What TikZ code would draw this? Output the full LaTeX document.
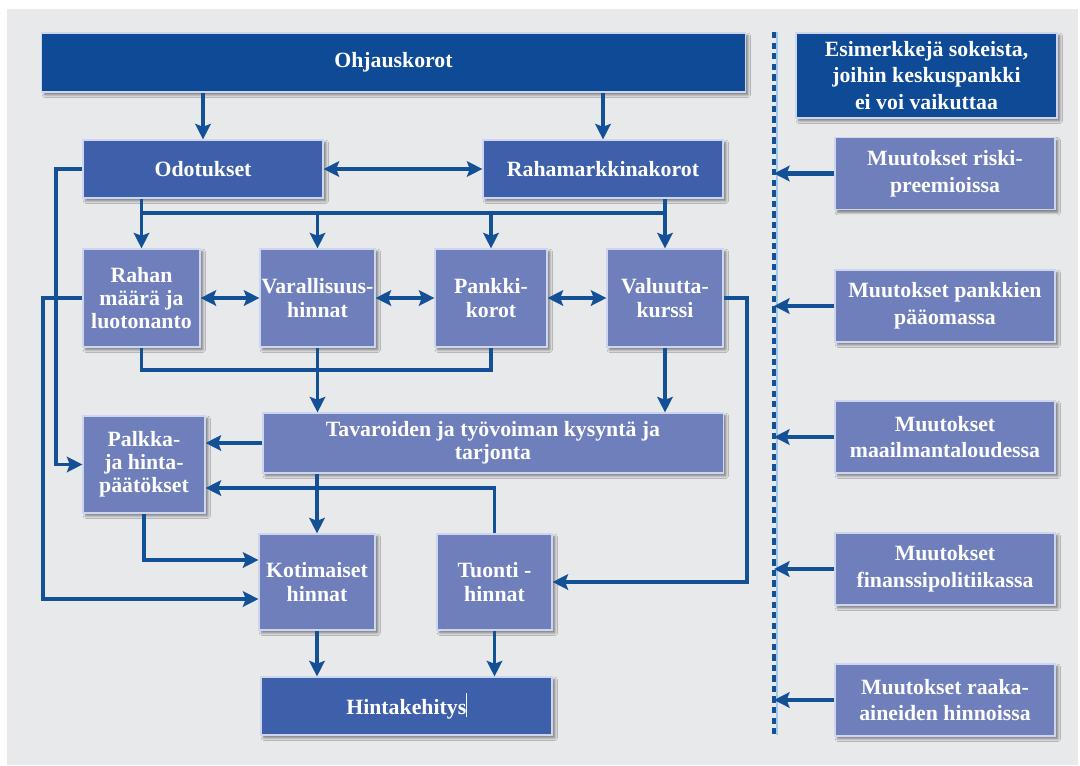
\documentclass[tikz,border=0pt]{standalone}
\usepackage{fontspec}
\setmainfont{Liberation Serif}
\usetikzlibrary{arrows.meta,calc,shadows.blur}

\definecolor{bggrey}{RGB}{232,233,235}
\definecolor{darkblue}{RGB}{14,74,150}
\definecolor{midblue}{RGB}{62,96,170}
\definecolor{lightblue}{RGB}{111,127,188}
\definecolor{arrowblue}{RGB}{20,80,150}
\definecolor{rimblue}{RGB}{205,214,238}
\definecolor{dashlight}{RGB}{160,200,235}

\begin{document}
\begin{tikzpicture}[x=0.025cm,y=-0.025cm,
	box/.style={draw=rimblue,line width=0.8pt,text=white,align=center,inner sep=1pt,
		font=\bfseries\fontsize{15.5}{16.5}\selectfont,
		blur shadow={shadow xshift=2pt,shadow yshift=-2pt,shadow blur steps=6,shadow opacity=50}},
	darkbox/.style={box,fill=darkblue},
	midbox/.style={box,fill=midblue},
	lightbox/.style={box,fill=lightblue},
	sidebox/.style={lightbox,minimum width=5.5cm,minimum height=1.8cm,
		font=\bfseries\fontsize{15.5}{19}\selectfont},
	rowbox/.style={lightbox,minimum height=2.45cm},
	link/.style={draw=arrowblue,line width=2.6pt},
	arr/.style={link,-{Stealth[length=11pt,width=11pt,inset=2pt]}},
	arrs/.style={link,{Stealth[length=11pt,width=11pt,inset=2pt]}-{Stealth[length=11pt,width=11pt,inset=2pt]}},
	]
				\useasboundingbox (0,0) rectangle (1080,765);
				\fill[white] (0,0) rectangle (1080,765);
				\fill[bggrey] (7,9) rectangle (1078,765);
				
				% Boxes
				\node[darkbox,minimum width=17.575cm,minimum height=1.475cm] (ohj) at (393.5,62.5) {Ohjauskorot};
				\node[midbox,minimum width=6cm,minimum height=1.45cm] (odo) at (203,169) {Odotukset};
				\node[midbox,minimum width=6cm,minimum height=1.45cm] (raha) at (603,169) {Rahamarkkinakorot};
				
				\node[rowbox,minimum width=2.925cm] (maara) at (141.5,298) {Rahan\\määrä ja\\luotonanto};
				\node[rowbox,minimum width=2.875cm] (vara) at (317.5,298) {Varallisuus-\\hinnat};
				\node[rowbox,minimum width=2.8cm] (pank) at (491,298) {Pankki-\\korot};
				\node[rowbox,minimum width=2.9cm] (valu) at (665,298) {Valuutta-\\kurssi};
				
				\node[lightbox,minimum width=3.05cm,minimum height=2.425cm] (palk) at (144,464.5) {Palkka-\\ja hinta-\\päätökset};
				\node[lightbox,minimum width=11.5cm,minimum height=1.5cm] (tava) at (493,443) {Tavaroiden ja työvoiman kysyntä ja\\tarjonta};
				\node[lightbox,minimum width=2.9cm,minimum height=2.4cm] (koti) at (317,582) {Kotimaiset\\hinnat};
				\node[lightbox,minimum width=2.875cm,minimum height=2.4cm] (tuon) at (494.5,582) {Tuonti -\\hinnat};
				\node[midbox,minimum width=7.275cm,minimum height=1.45cm] (hint) at (406.5,706) {Hintakehitys\rule[-.3ex]{.3pt}{2.4ex}};
				
				% Shocks
				\node[darkbox,minimum width=6.525cm,minimum height=2.125cm,font=\bfseries\fontsize{15.5}{19}\selectfont] (esim) at (926.5,75.5) {Esimerkkejä sokeista,\\joihin keskuspankki\\ei voi vaikuttaa};
				\node[sidebox] (riski) at (945,173.5) {Muutokset riski-\\preemioissa};
				\node[sidebox] (paaoma) at (945,306) {Muutokset pankkien\\pääomassa};
				\node[sidebox] (maailma) at (945,437) {Muutokset\\maailmantaloudessa};
				\node[sidebox] (finanssi) at (945,569) {Muutokset\\finanssipolitiikassa};
				\node[sidebox] (raaka) at (945,700) {Muutokset raaka-\\aineiden hinnoissa};
				
				% Helper points
				\coordinate (bustop) at (0,213);
				\coordinate (busbot) at (0,370);
				\coordinate (l1) at (56,0);
				\coordinate (l2) at (43,0);
				\coordinate (vr) at (747,0);
				\coordinate (dtop) at (774,32);
				\coordinate (dbot) at (774,735);
				
				% Top arrows
				\draw[arr] (ohj.south -| odo) -- (odo.north);
				\draw[arr] (ohj.south -| raha) -- (raha.north);
				\draw[arrs] (odo.east) -- (raha.west);
				
				% Bus to the row
				\draw[link] (odo.south -| maara) -- (maara |- bustop) -- (valu |- bustop) -- (raha.south -| valu);
				\foreach \n in {maara,vara,pank,valu}
					\draw[arr] (\n |- bustop) -- (\n.north);
				\draw[arrs] (maara.east) -- (vara.west);
				\draw[arrs] (vara.east) -- (pank.west);
				\draw[arrs] (pank.east) -- (valu.west);
				
				% Row to demand
				\draw[link] (maara.south) -- (maara |- busbot) -- (pank |- busbot) -- (pank.south);
				\draw[arr] (vara.south) -- (tava.north -| vara);
				\draw[arr] (valu.south) -- (tava.north -| valu);
				\draw[arr] (valu.east) -- (valu.east -| vr) |- (tuon.east); % exchange rate to import prices
				
				% Left side loops
				\draw[arr] (odo.west) -- (odo.west -| l1) |- (palk.west);
				\draw[arr] (maara.west) -- (maara.west -| l2) |- ($(koti.west)+(0,17)$);
				\draw[arr] (palk.south) |- ($(koti.west)+(0,-22)$);
				\draw[arr] (tava.west) -- (tava.west -| palk.east);
				\draw[arr] (tuon.north) |- ($(palk.east)+(0,23.5)$);
				
				% Prices
				\draw[arr] (tava.south -| koti) -- (koti.north);
				\draw[arr] (koti.south) -- (hint.north -| koti);
				\draw[arr] (tuon.south) -- (hint.north -| tuon);
				
				% Dividing line and shocks
				\draw[dashlight,line width=1pt] ([xshift=2pt]dtop) -- ([xshift=2pt]dbot);
				\draw[arrowblue,line width=2.6pt,dash pattern=on 4.5pt off 3pt] (dtop) -- (dbot);
				\foreach \n in {riski,paaoma,maailma,finanssi,raaka}
					\draw[arr,line width=3.2pt] (\n.west) -- (\n.west -| dtop);
			\end{tikzpicture}
\end{document}
